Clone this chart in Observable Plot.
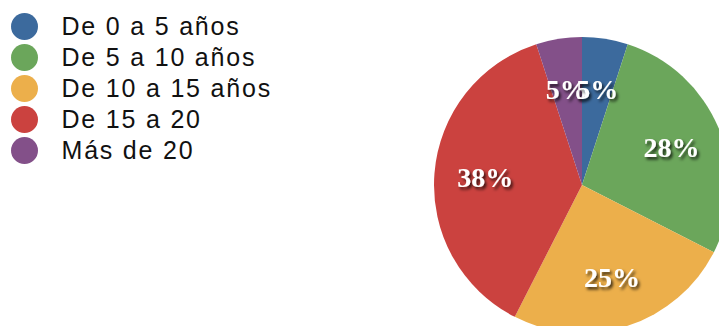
<!DOCTYPE html>
<html>
<head>
<meta charset="utf-8">
<script src="https://cdn.jsdelivr.net/npm/d3@7"></script>
<script src="https://cdn.jsdelivr.net/npm/@observablehq/plot@0.6"></script>
<style>
  html, body { margin: 0; padding: 0; background: #ffffff; }
  #chart svg { display: block; }
</style>
</head>
<body>
<div id="chart"></div>
<script>
const categories = ["De 0 a 5 años", "De 5 a 10 años", "De 10 a 15 años", "De 15 a 20", "Más de 20"];
const counts = [2, 11, 10, 15, 2];
const colors = ["#3c6a9d", "#6ba65b", "#ecaf4b", "#cb423f", "#835089"];

const data = categories.map((c, i) => ({category: c, count: counts[i]}));
const total = d3.sum(counts);

const W = 719, H = 326;
const CX = 582, CY = 185, R = 148, LABEL_R = 97;

function pieMark(index, scales, values, dimensions) {
  const color = scales && scales.color ? scales.color : d3.scaleOrdinal(categories, colors);
  const arcs = d3.pie().sort(null).value(d => d.count)(data);
  const arc = d3.arc().innerRadius(0).outerRadius(R);
  const labelArc = d3.arc().innerRadius(LABEL_R).outerRadius(LABEL_R);
  const g = d3.create("svg:g");
  const defs = g.append("defs");
  const f = defs.append("filter").attr("id", "shadow").attr("x", "-20%").attr("y", "-20%").attr("width", "150%").attr("height", "160%");
  f.append("feDropShadow").attr("dx", 2).attr("dy", 2.5).attr("stdDeviation", 1.6)
    .attr("flood-color", "#000").attr("flood-opacity", 0.75);
  const pie = g.append("g").attr("transform", `translate(${CX},${CY})`);
  pie.selectAll("path").data(arcs).join("path")
    .attr("d", arc)
    .attr("fill", d => color(d.data.category));
  pie.selectAll("text").data(arcs.slice().reverse()).join("text")
    .attr("transform", d => `translate(${labelArc.centroid(d)})`)
    .attr("text-anchor", "middle")
    .attr("dy", "0.34em")
    .attr("fill", "#ffffff")
    .attr("font-family", "'Liberation Serif', 'Times New Roman', serif")
    .attr("font-weight", "bold")
    .attr("font-size", 28)
    .attr("filter", "url(#shadow)")
    .text(d => Math.round(d.data.count / total * 100) + "%");
  return g.node();
}

const chart = Plot.plot({
  width: W,
  height: H,
  margin: 0,
  style: {background: "#ffffff", overflow: "hidden"},
  y: {type: "point", domain: categories, range: [24, 151], padding: 0, axis: null},
  color: {type: "ordinal", domain: categories, range: colors},
  marks: [
    Plot.dot(data, {y: "category", fill: "category", r: 13.5, frameAnchor: "left", dx: 24}),
    Plot.text(data, {
      y: "category", text: "category", frameAnchor: "left", dx: 61,
      textAnchor: "start", fill: "#111111", fontSize: 25,
      fontFamily: "'Liberation Sans', Arial, sans-serif"
    }),
    pieMark
  ]
});
chart.querySelectorAll("text").forEach(t => {
  if (t.getAttribute("font-size") === "25" || t.closest("[font-size='25']")) t.style.letterSpacing = "1.8px";
});
document.getElementById("chart").appendChild(chart);
</script>
</body>
</html>
